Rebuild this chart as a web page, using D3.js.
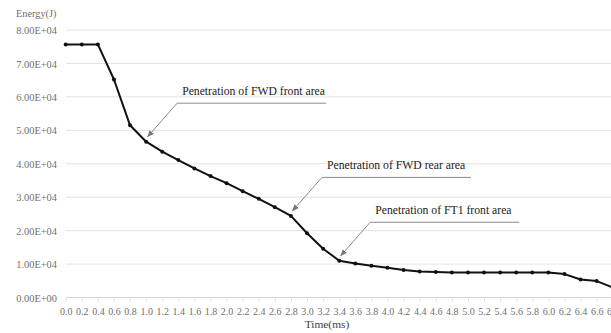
<!DOCTYPE html>
<html>
<head>
<meta charset="utf-8">
<script src="https://cdn.jsdelivr.net/npm/d3@7"></script>
<style>
  html, body { margin: 0; padding: 0; background: #fff; }
  svg { display: block; font-family: "Liberation Serif", "Times New Roman", serif; }
</style>
</head>
<body>
<div id="chart"></div>
<script>
// ===== Data =====
const timeLabels = ["0.0","0.2","0.4","0.6","0.8","1.0","1.2","1.4","1.6","1.8",
  "2.0","2.2","2.4","2.6","2.8","3.0","3.2","3.4","3.6","3.8",
  "4.0","4.2","4.4","4.6","4.8","5.0","5.2","5.4","5.6","5.8",
  "6.0","6.2","6.4","6.6","6.8"];
const energy = [75700,75700,75700,65200,51500,46600,43600,41100,38600,36300,
  34200,31800,29500,27000,24400,19200,14600,11000,10200,9500,
  8900,8200,7800,7600,7500,7500,7500,7500,7500,7500,
  7500,7000,5400,4900,3000];
const yTicks = [0,10000,20000,30000,40000,50000,60000,70000,80000];
const notes = [
  { time: "1.0", text: "Penetration of FWD front area" },
  { time: "2.8", text: "Penetration of FWD rear area" },
  { time: "3.4", text: "Penetration of FT1 front area" }
];

// ===== Layout =====
const W = 611, H = 333;
const X0 = 65.7, STEP = 16.09;
const fmtE = d => {
  if (d === 0) return "0.00E+00";
  const e = Math.floor(Math.log10(d));
  return (d / Math.pow(10, e)).toFixed(2) + "E+" + String(e).padStart(2, "0");
};

const svg = d3.select("#chart").append("svg")
  .attr("width", W).attr("height", H);

const x = d3.scalePoint().domain(timeLabels)
  .range([X0, X0 + STEP * (timeLabels.length - 1)]);
const y = d3.scaleLinear().domain([0, 80000]).range([297.5, 30]);

// gridlines
svg.append("g").selectAll("line")
  .data(yTicks.filter(d => d > 0))
  .join("line")
  .attr("x1", X0).attr("x2", W)
  .attr("y1", d => y(d)).attr("y2", d => y(d))
  .attr("stroke", "#e3e3e3").attr("stroke-width", 1);

// y axis labels
const yAxis = d3.axisLeft(y).tickValues(yTicks).tickFormat(fmtE).tickSize(0).tickPadding(0);
svg.append("g").attr("transform", `translate(57,0)`)
  .call(yAxis)
  .call(g => g.select(".domain").remove())
  .call(g => g.selectAll("text")
    .attr("font-family", "Liberation Serif").attr("font-size", "10.4px")
    .attr("fill", "#707070").attr("dy", "0.35em"));

// x axis
const xAxis = d3.axisBottom(x).tickSize(4).tickPadding(6);
svg.append("g").attr("transform", `translate(0,${y(0)})`)
  .call(xAxis)
  .call(g => g.select(".domain").attr("d", `M${X0},0H${W}`).attr("stroke", "#d4d4d4"))
  .call(g => g.selectAll(".tick line").attr("stroke", "#e3e3e3"))
  .call(g => g.selectAll("text")
    .attr("font-family", "Liberation Serif").attr("font-size", "10px")
    .attr("fill", "#707070"));

// axis titles
svg.append("text").attr("x", 16).attr("y", 17)
  .attr("font-size", "10.3px").attr("fill", "#707070").text("Energy(J)");
svg.append("text").attr("x", 327).attr("y", 328).attr("text-anchor", "middle")
  .attr("font-size", "11.4px").attr("fill", "#404040").text("Time(ms)");

// series
const series = timeLabels.map((t, i) => ({ t, v: energy[i] }));
const line = d3.line().x(d => x(d.t)).y(d => y(d.v));
svg.append("path").datum(series)
  .attr("d", line).attr("fill", "none")
  .attr("stroke", "#111").attr("stroke-width", 2).attr("stroke-linejoin", "round");
svg.append("g").selectAll("circle").data(series).join("circle")
  .attr("cx", d => x(d.t)).attr("cy", d => y(d.v)).attr("r", 2)
  .attr("fill", "#111");

// annotations
svg.append("defs").append("marker")
  .attr("id", "arr").attr("viewBox", "0 0 10 10")
  .attr("refX", 9).attr("refY", 5)
  .attr("markerWidth", 7).attr("markerHeight", 7)
  .attr("orient", "auto-start-reverse")
  .append("path").attr("d", "M0,1L10,5L0,9z").attr("fill", "#777");

notes.forEach(n => {
  const i = timeLabels.indexOf(n.time);
  const tx = x(n.time) + 1.5, ty = y(energy[i]) - 5;
  const ex = tx + 29.5, ey = ty - 33.5;
  const g = svg.append("g");
  g.append("path")
    .attr("d", `M${ex + 149},${ey}H${ex}L${tx},${ty}`)
    .attr("fill", "none").attr("stroke", "#8a8a8a").attr("stroke-width", 1)
    .attr("marker-end", "url(#arr)");
  g.append("text").attr("x", ex + 5).attr("y", ey - 8)
    .attr("font-size", "11.7px").attr("fill", "#222").text(n.text);
});
</script>
</body>
</html>
